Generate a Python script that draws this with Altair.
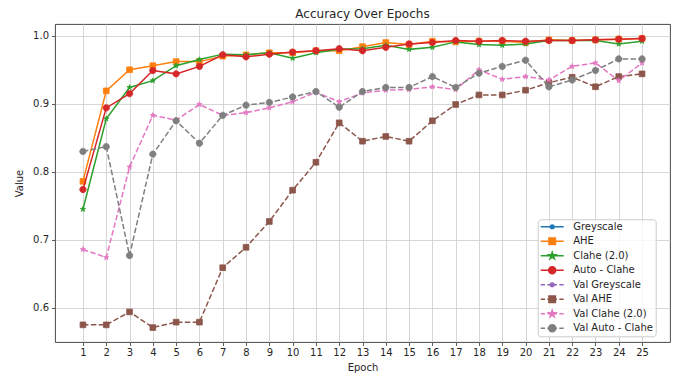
import math

import altair as alt
import pandas as pd

# ---- data -------------------------------------------------------------
epochs = list(range(1, 26))

greyscale = []
ahe = [0.786, 0.919, 0.950, 0.956, 0.962, 0.962, 0.970, 0.972, 0.975, 0.975,
       0.978, 0.978, 0.984, 0.990, 0.987, 0.992, 0.991, 0.992, 0.992, 0.990,
       0.994, 0.993, 0.994, 0.995, 0.996]
clahe = [0.745, 0.878, 0.924, 0.934, 0.956, 0.965, 0.973, 0.972, 0.975, 0.967,
         0.975, 0.980, 0.981, 0.986, 0.980, 0.983, 0.991, 0.987, 0.986, 0.988,
         0.993, 0.993, 0.993, 0.988, 0.992]
auto_clahe = [0.774, 0.894, 0.915, 0.949, 0.944, 0.955, 0.972, 0.969, 0.973, 0.976,
              0.978, 0.981, 0.978, 0.983, 0.988, 0.990, 0.993, 0.992, 0.993, 0.992,
              0.993, 0.993, 0.994, 0.995, 0.996]
val_greyscale = []
val_ahe = [0.575, 0.575, 0.594, 0.571, 0.579, 0.579, 0.659, 0.689, 0.727, 0.773,
           0.814, 0.872, 0.845, 0.852, 0.845, 0.875, 0.899, 0.913, 0.913, 0.920,
           0.931, 0.939, 0.925, 0.940, 0.944]
val_clahe = [0.686, 0.674, 0.807, 0.883, 0.876, 0.899, 0.883, 0.887, 0.894, 0.903,
             0.917, 0.903, 0.916, 0.920, 0.921, 0.925, 0.921, 0.950, 0.936, 0.940,
             0.935, 0.955, 0.960, 0.934, 0.960]
val_auto_clahe = [0.830, 0.837, 0.677, 0.826, 0.875, 0.842, 0.883, 0.898, 0.902, 0.910,
                  0.918, 0.895, 0.918, 0.924, 0.924, 0.940, 0.924, 0.945, 0.955, 0.964,
                  0.925, 0.935, 0.949, 0.966, 0.966]

series_names = ["Greyscale", "AHE", "Clahe (2.0)", "Auto - Clahe",
                "Val Greyscale", "Val AHE", "Val Clahe (2.0)", "Val Auto - Clahe"]
series_values = [greyscale, ahe, clahe, auto_clahe,
                 val_greyscale, val_ahe, val_clahe, val_auto_clahe]
series_colors = ["#1f77b4", "#ff7f0e", "#2ca02c", "#d62728",
                 "#9467bd", "#8c564b", "#e377c2", "#7f7f7f"]
series_markers = ["point", "square", "star", "circle"] * 2
series_dashed = [False] * 4 + [True] * 4

FONT = "DejaVu Sans"
TEXT = "#262626"


# ---- marker geometry (SVG paths in the -1..1 symbol box) ---------------
def fmt(v):
    return f"{v:.4f}".rstrip("0").rstrip(".")


def circle_path(r):
    return (f"M{fmt(-r)},0A{fmt(r)},{fmt(r)} 0 1,0 {fmt(r)},0"
            f"A{fmt(r)},{fmt(r)} 0 1,0 {fmt(-r)},0Z")


def square_path(h):
    return f"M{fmt(-h)},{fmt(-h)}H{fmt(h)}V{fmt(h)}H{fmt(-h)}Z"


def star_path(r):
    inner = r * 0.381966
    pts = []
    for i in range(10):
        rad = r if i % 2 == 0 else inner
        ang = math.pi / 2 + i * math.pi / 5
        pts.append((rad * math.cos(ang), -rad * math.sin(ang)))
    return "M" + "L".join(f"{fmt(x)},{fmt(y)}" for x, y in pts) + "Z"


def marker_path(kind, scale):
    if kind == "square":
        return square_path(0.86 * scale)
    if kind == "circle":
        return circle_path(0.92 * scale)
    if kind == "star":
        return star_path(0.95 * scale)
    return circle_path(0.48 * scale)


# handle strokes for the legend: solid, or four dashes around the marker
SOLID_HANDLE = "M-1,0H1"
DASHED_HANDLE = "M-1,0H-0.62M-0.42,0H-0.08M0.08,0H0.42M0.62,0H1"

legend_shapes = [
    (DASHED_HANDLE if dashed else SOLID_HANDLE) + marker_path(kind, 0.33)
    for kind, dashed in zip(series_markers, series_dashed)
]

# ---- scales / axes ----------------------------------------------------
x_enc = alt.X(
    "Epoch:Q",
    scale=alt.Scale(domain=[-0.2, 26.2], nice=False, zero=False),
    axis=alt.Axis(values=epochs, format="d", title="Epoch"),
)
y_enc = alt.Y(
    "Value:Q",
    scale=alt.Scale(domain=[0.5498, 1.0173], nice=False, zero=False),
    axis=alt.Axis(values=[0.6, 0.7, 0.8, 0.9, 1.0], format=".1f", title="Value"),
)

marker_sizes = {"square": 44, "circle": 48, "star": 34, "point": 20}

layers = []
for name, vals, color, kind, dashed in zip(series_names, series_values, series_colors,
                                           series_markers, series_dashed):
    if not vals:
        continue
    df = pd.DataFrame({"Epoch": epochs, "Value": vals, "Series": name})
    base = alt.Chart(df)
    line_kw = dict(color=color, strokeWidth=1.5)
    if dashed:
        line_kw["strokeDash"] = [5.5, 2.4]
    layers.append(base.mark_line(**line_kw).encode(x=x_enc, y=y_enc))
    layers.append(
        base.mark_point(filled=True, fill=color, stroke=color, strokeWidth=0.8,
                        opacity=1, shape=marker_path(kind, 1.0), size=marker_sizes[kind])
        .encode(x=x_enc, y=y_enc)
    )

# legend-only layer: no rows survive the filter, the scales carry the entries
legend_df = pd.DataFrame({"Series": series_names})
legend_layer = (
    alt.Chart(legend_df)
    .transform_filter("false")
    .mark_point(filled=True, opacity=1)
    .encode(
        x=alt.value(0),
        y=alt.value(0),
        fill=alt.Fill("Series:N", title=None,
                      scale=alt.Scale(domain=series_names, range=series_colors)),
        stroke=alt.Stroke("Series:N", title=None,
                          scale=alt.Scale(domain=series_names, range=series_colors)),
        shape=alt.Shape("Series:N", title=None,
                        scale=alt.Scale(domain=series_names, range=legend_shapes)),
    )
)
layers.append(legend_layer)

chart = (
    alt.layer(*layers)
    .properties(
        width=615,
        height=318,
        padding={"left": 55, "top": 24, "right": 5, "bottom": 33},
        autosize="none",
        title=alt.TitleParams(
            "Accuracy Over Epochs", font=FONT, fontSize=12, fontWeight="normal",
            color=TEXT, anchor="middle", offset=3,
        ),
    )
    .configure_view(stroke="#333333", strokeWidth=0.9)
    .configure_axis(
        labelFont=FONT, labelFontSize=10, labelColor=TEXT,
        titleFont=FONT, titleFontSize=10, titleColor=TEXT, titleFontWeight="normal",
        domain=False, tickColor="#333333", tickSize=3.5, tickWidth=0.8,
        grid=True, gridColor="#cccccc", gridWidth=0.8,
    )
    .configure_axisX(labelPadding=2, titlePadding=5, labelAngle=0)
    .configure_axisY(labelPadding=3, titlePadding=8)
    .configure_legend(
        orient="none", legendX=482.7, legendY=195.3,
        padding=2, clipHeight=11, rowPadding=3.5,
        symbolSize=529, symbolStrokeWidth=1.5, symbolOpacity=1,
        labelOffset=8.5, labelFont=FONT, labelFontSize=10, labelColor=TEXT,
        fillColor="rgba(255,255,255,0.8)", strokeColor="#cccccc", cornerRadius=3,
    )
)

chart.save("out.html", embed_options={"renderer": "svg", "actions": False})
